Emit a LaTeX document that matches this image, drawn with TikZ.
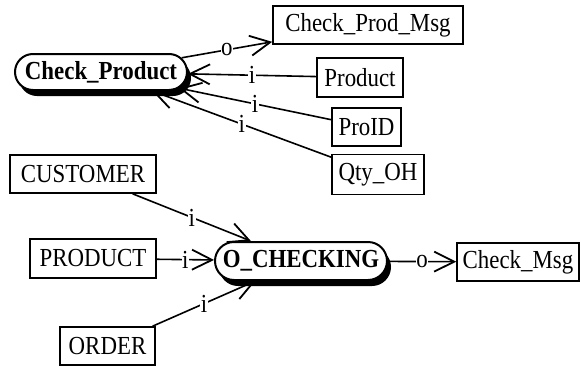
\documentclass[tikz,border=0pt]{standalone}
\usepackage{fontspec}
\setmainfont[FakeStretch=0.88]{Liberation Serif}
\usetikzlibrary{arrows.meta,shapes.misc,shadows}
\newcommand{\dfont}{\fontsize{26}{30}\selectfont}
\tikzset{
  databox/.style={draw, line width=1.6pt, rectangle, inner sep=0pt, font=\dfont, fill=white},
  procnode/.style={draw, line width=2pt, rounded rectangle, inner sep=0pt, font=\dfont\bfseries, fill=white,
    drop shadow={shadow xshift=4pt, shadow yshift=-6pt, fill=black, opacity=1}},
  flow/.style={line width=1.6pt, -{Straight Barb[length=20pt,width=20pt,line width=1.8pt]}},
  lbl/.style={fill=white, inner sep=0.6pt, font=\dfont, midway}
}
\begin{document}
\begin{tikzpicture}[x=1pt,y=-1pt]
\useasboundingbox (0,0) rectangle (581,367);
\node[procnode, minimum width=172pt, minimum height=36pt] (cp) at (101,72) {Check\_Product};
\node[databox, minimum width=190pt, minimum height=38pt] (cpm) at (368,25) {Check\_Prod\_Msg};
\node[databox, minimum width=86pt, minimum height=39pt] (prod) at (360,77.5) {Product};
\node[databox, minimum width=69pt, minimum height=38pt] (proid) at (366.5,127) {ProID};
\node[databox, minimum width=92pt, minimum height=40pt] (qty) at (378,174.5) {Qty\_OH};
\node[databox, minimum width=146pt, minimum height=38pt] (cust) at (83,174) {CUSTOMER};
\node[databox, minimum width=126pt, minimum height=39pt] (product) at (93,258.5) {PRODUCT};
\node[databox, minimum width=95pt, minimum height=38pt] (order) at (107.5,346) {ORDER};
\node[procnode, minimum width=172pt, minimum height=38pt] (oc) at (301,261) {O\_CHECKING};
\node[databox, minimum width=122pt, minimum height=38pt] (cm) at (518,262) {Check\_Msg};

\draw[flow] (cp) -- node[lbl] {o} (cpm);
\draw[flow] (prod) -- node[lbl] {i} (cp);
\draw[flow] (proid) -- node[lbl] {i} (cp);
\draw[flow] (qty) -- node[lbl] {i} (cp);
\draw[flow] (cust) -- node[lbl] {i} (oc);
\draw[flow] (product) -- node[lbl] {i} (oc);
\draw[flow] (order) -- node[lbl] {i} (oc);
\draw[flow] (oc) -- node[lbl] {o} (cm);
\end{tikzpicture}
\end{document}
